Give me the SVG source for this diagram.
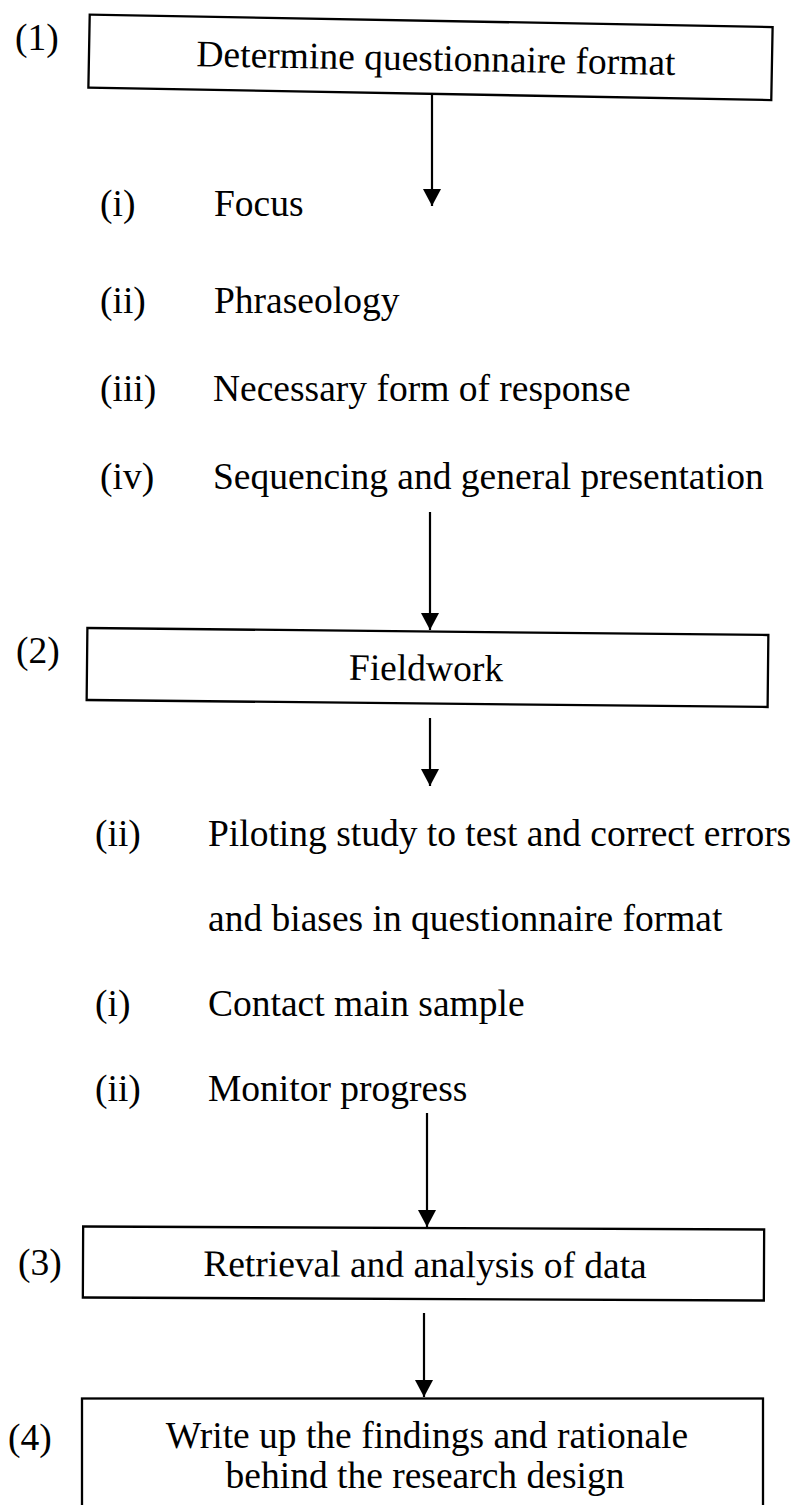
<svg xmlns="http://www.w3.org/2000/svg" width="794" height="1505" viewBox="0 0 794 1505">
  <style>
    text { font-family: "Liberation Serif", "Times New Roman", serif; font-size: 37.5px; fill: #000; }
    .box { fill: #fff; stroke: #000; stroke-width: 2.3; }
    .mid { text-anchor: middle; }
    .conn { stroke: #000; stroke-width: 2.2; fill: none; marker-end: url(#head); }
  </style>
  <defs>
    <marker id="head" viewBox="0 0 17 18" refX="17" refY="9" markerWidth="17" markerHeight="18" markerUnits="userSpaceOnUse" orient="auto">
      <path d="M0,0 L17,9 L0,18 z" fill="#000"/>
    </marker>
  </defs>

  <rect width="794" height="1505" fill="#fff"/>

  <!-- Step 1 -->
  <g id="step1">
    <text x="15" y="50">(1)</text>
    <g transform="rotate(1.05 430.5 57.3)">
      <rect class="box" x="89" y="20.8" width="683" height="73"/>
      <text class="mid" x="436" y="70.5">Determine questionnaire format</text>
    </g>
  </g>

  <!-- Step 1 detail items -->
  <g id="format-items">
    <text x="100" y="216">(i)</text>
    <text x="214" y="216">Focus</text>
    <text x="100" y="313">(ii)</text>
    <text x="214" y="313">Phraseology</text>
    <text x="100" y="401">(iii)</text>
    <text x="213" y="401">Necessary form of response</text>
    <text x="100" y="489">(iv)</text>
    <text x="213" y="489">Sequencing and general presentation</text>
  </g>

  <!-- Step 2 -->
  <g id="step2">
    <text x="16" y="663">(2)</text>
    <g transform="rotate(0.59 427.5 667.5)">
      <rect class="box" x="87" y="631.5" width="681" height="72"/>
      <text class="mid" x="426" y="680.5">Fieldwork</text>
    </g>
  </g>

  <!-- Step 2 detail items -->
  <g id="fieldwork-items">
    <text x="95" y="846">(ii)</text>
    <text x="208" y="846">Piloting study to test and correct errors</text>
    <text x="208" y="931">and biases in questionnaire format</text>
    <text x="95" y="1016">(i)</text>
    <text x="208" y="1016">Contact main sample</text>
    <text x="95" y="1101">(ii)</text>
    <text x="208" y="1101">Monitor progress</text>
  </g>

  <!-- Step 3 -->
  <g id="step3">
    <text x="18" y="1275">(3)</text>
    <g transform="rotate(0.25 423.5 1263.5)">
      <rect class="box" x="83" y="1228" width="681" height="71"/>
      <text class="mid" x="425" y="1277">Retrieval and analysis of data</text>
    </g>
  </g>

  <!-- Step 4 -->
  <g id="step4">
    <text x="8" y="1450">(4)</text>
    <rect class="box" x="82" y="1398.5" width="681" height="120"/>
    <text class="mid" x="427" y="1448">Write up the findings and rationale</text>
    <text class="mid" x="425" y="1488">behind the research design</text>
  </g>

  <!-- Connectors -->
  <g id="connectors">
    <line class="conn" x1="432" y1="94" x2="432" y2="206"/>
    <line class="conn" x1="430" y1="512" x2="430" y2="630"/>
    <line class="conn" x1="430" y1="718" x2="430" y2="786"/>
    <line class="conn" x1="427" y1="1113" x2="427" y2="1227"/>
    <line class="conn" x1="424" y1="1313" x2="424" y2="1397"/>
  </g>
</svg>
